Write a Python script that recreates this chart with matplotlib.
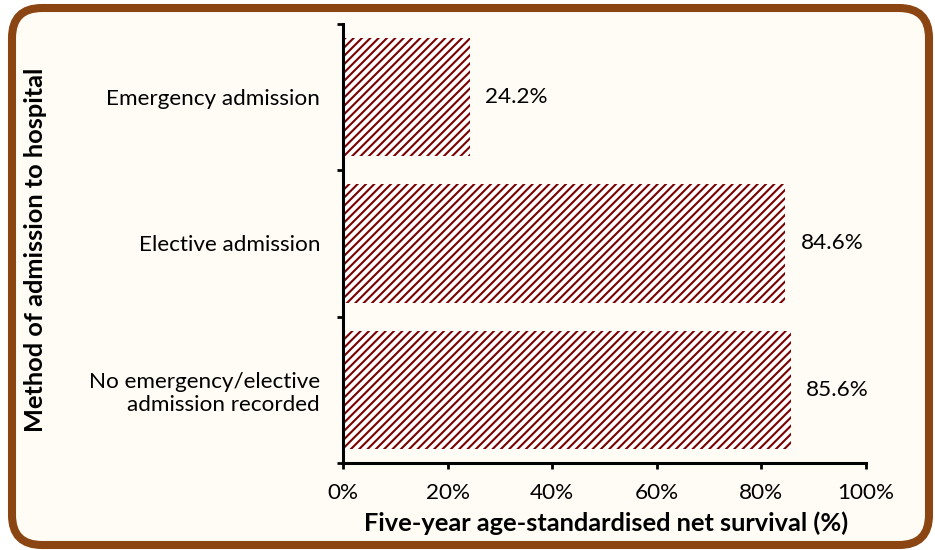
import matplotlib

matplotlib.use("Agg")
import matplotlib.pyplot as plt
from matplotlib.patches import FancyBboxPatch
from matplotlib.transforms import IdentityTransform

categories = ["No emergency/elective\nadmission recorded",
              "Elective admission",
              "Emergency admission"]
survival = [85.6, 84.6, 24.2]
xticks = [0, 20, 40, 60, 80, 100]

plt.rcParams["font.family"] = ["Lato", "DejaVu Sans"]
plt.rcParams["hatch.linewidth"] = 1.5

fig = plt.figure(figsize=(9.35, 5.5), dpi=100, facecolor="white")

# rounded brown frame with cream fill (pixel coordinates)
frame = FancyBboxPatch((12, 5), 917, 537, boxstyle="round,pad=0,rounding_size=30",
                       transform=IdentityTransform(), facecolor="#fefcf4",
                       edgecolor="#8b4513", linewidth=5.8, zorder=-1)
fig.patches.append(frame)

ax = fig.add_axes([0.3668, 0.1582, 0.5594, 0.7982])
ax.set_facecolor("none")

y = range(len(categories))
ax.barh(y, survival, height=0.81, facecolor="white", edgecolor="#7b0000",
        hatch="////", linewidth=0)

for yi, v in zip(y, survival):
    ax.text(v + 2.9, yi, f"{v:.1f}%", va="center", ha="left", fontsize=16.2)

ax.set_xlim(0, 100)
ax.set_ylim(-0.5, len(categories) - 0.5)
ax.set_xticks(xticks)
ax.set_xticklabels([f"{t}%" for t in xticks], fontsize=16.2)
ax.set_yticks(list(y))
ax.set_yticklabels(categories, fontsize=16.2)
ax.set_yticks([-0.5, 0.5, 1.5, 2.5], minor=True)
ax.tick_params(axis="y", which="major", length=0, pad=16.5)
ax.tick_params(axis="y", which="minor", length=4.5, width=2)
ax.tick_params(axis="x", length=4.5, width=2, pad=10)

for s in ("top", "right"):
    ax.spines[s].set_visible(False)
for s in ("left", "bottom"):
    ax.spines[s].set_linewidth(2.2)

ax.set_xlabel("Five-year age-standardised net survival (%)", fontsize=18.3,
              fontweight="bold")
ax.xaxis.set_label_coords(0.503, -0.11)
ax.set_ylabel("Method of admission to hospital", fontsize=18.3,
              fontweight="bold")
ax.yaxis.set_label_coords(-0.566, 0.485)

fig.savefig("out.png", dpi=100)
